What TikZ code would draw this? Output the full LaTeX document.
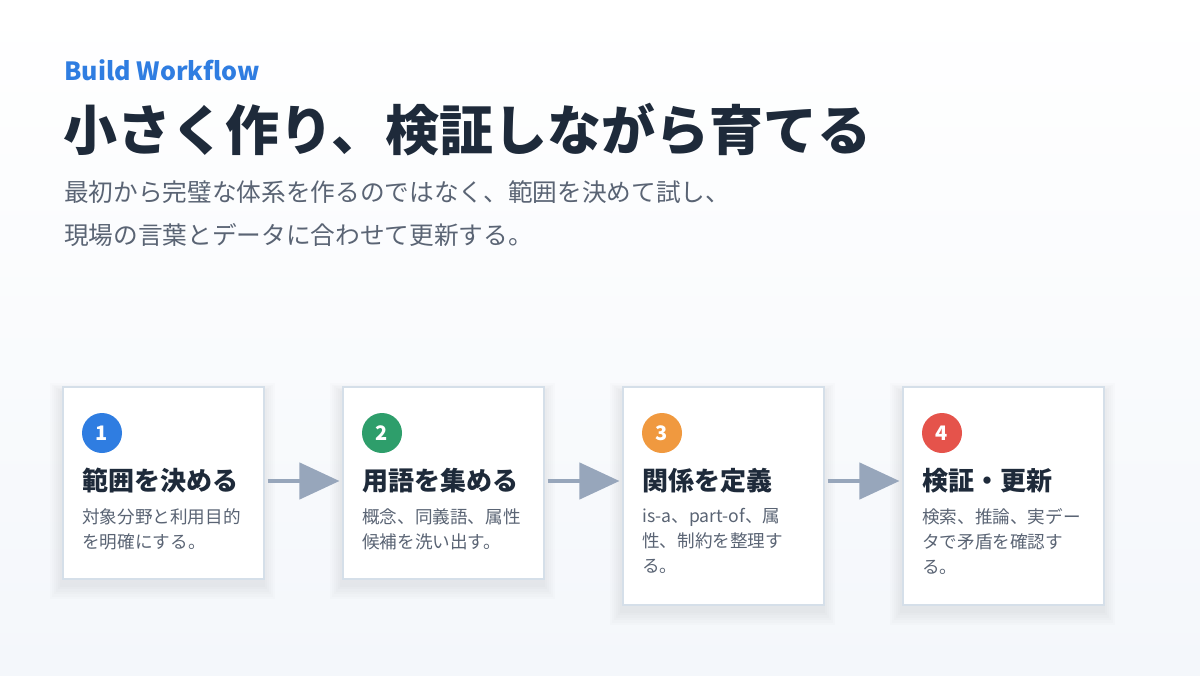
\documentclass[tikz,border=0pt]{standalone}
\usepackage{fontspec}
\setmainfont{Noto Sans CJK JP}
\definecolor{blue1}{HTML}{2F7DE1}
\definecolor{green1}{HTML}{2E9E6B}
\definecolor{orange1}{HTML}{F0993F}
\definecolor{red1}{HTML}{E5534B}
\definecolor{ink}{HTML}{1E2A3A}
\definecolor{sub}{HTML}{5A6474}
\definecolor{bord}{HTML}{D5DFE9}
\definecolor{arr}{HTML}{97A6BB}
\definecolor{bgb}{HTML}{F4F7FB}
\tikzset{
 card/.style={draw=bord,line width=1.5pt,fill=white,anchor=north west,minimum width=201*0.75pt},
 num/.style={circle,minimum size=30pt,inner sep=0pt,text=white,font=\fontsize{15}{15}\selectfont\bfseries},
 head/.style={anchor=west,inner sep=0pt,text=ink,font=\fontsize{19.5}{21}\selectfont\bfseries},
 desc/.style={anchor=north west,inner sep=0pt,text=sub,align=left,font=\fontsize{13.2}{18.8}\selectfont},
 flow/.style={draw=arr,line width=3.5pt},
 tip/.style={fill=arr}
}
\newcommand{\softshadow}[4]{%
 \foreach \k in {1,...,6}{\fill[black,opacity=0.012] (#1-\k*2,#2-\k*1.5+6) rectangle (#3+\k*2,#4+\k*2.5+6);}}
\begin{document}
\begin{tikzpicture}[x=0.75pt,y=-0.75pt]
\useasboundingbox (0,0) rectangle (1200,675);
\shade[top color=white,bottom color=bgb] (0,0) rectangle (1200,675);
\node[anchor=west,inner sep=0pt,text=blue1,font=\fontsize{18.8}{19}\selectfont\bfseries] (kicker) at (64,70) {Build Workflow};
\node[anchor=west,inner sep=0pt,text=ink,font=\fontsize{40.5}{41}\selectfont\bfseries] (title) at (63,130) {小さく作り、検証しながら育てる};
\node[anchor=north west,inner sep=0pt,text=sub,align=left,font=\fontsize{18.5}{32.5}\selectfont] (subtitle) at (64,180) {最初から完璧な体系を作るのではなく、範囲を決めて試し、\\現場の言葉とデータに合わせて更新する。};
\softshadow{62}{386}{263}{578}
\softshadow{342}{386}{543}{578}
\softshadow{622}{386}{823}{604}
\softshadow{902}{386}{1103}{604}
\node[card,minimum height=192*0.75pt] (c1) at (62,386) {};
\node[card,minimum height=192*0.75pt] (c2) at (342,386) {};
\node[card,minimum height=218*0.75pt] (c3) at (622,386) {};
\node[card,minimum height=218*0.75pt] (c4) at (902,386) {};
\foreach \i/\x/\c/\h/\d in {1/62/blue1/範囲を決める/{対象分野と利用目的\\を明確にする。},2/342/green1/用語を集める/{概念、同義語、属性\\候補を洗い出す。},3/622/orange1/関係を定義/{is-a、part-of、属\\性、制約を整理す\\る。},4/902/red1/検証・更新/{検索、推論、実デー\\タで矛盾を確認す\\る。}}{
 \node[num,fill=\c] (n\i) at (\x+40,433) {\i};
 \node[head] (h\i) at (\x+20,481) {\h};
 \node[desc] (d\i) at (\x+20,508) {\d};
}
\foreach \a/\b in {1/2,2/3,3/4}{
 \coordinate (s\a) at ([xshift=2pt]c\a.east |- h\a);
 \coordinate (e\a) at ([xshift=-2pt]c\b.west |- h\b);
 \draw[flow] (s\a) -- ([xshift=-28pt]e\a);
 \fill[tip] (e\a) -- ([xshift=-30pt,yshift=14pt]e\a) -- ([xshift=-30pt,yshift=-14pt]e\a) -- cycle;
}
\end{tikzpicture}
\end{document}
